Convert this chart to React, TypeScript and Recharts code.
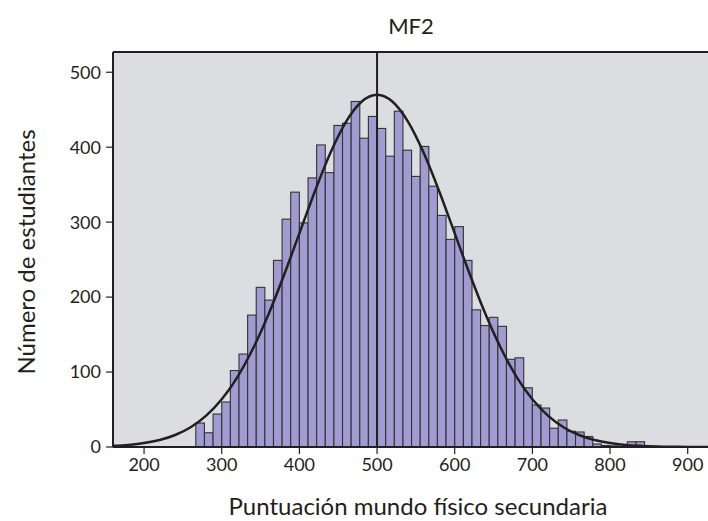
import React from 'react';
import {
  ComposedChart,
  Bar,
  Line,
  XAxis,
  YAxis,
  CartesianGrid,
  ReferenceLine,
} from 'recharts';

// bin centres (score), bins are 100/9 wide starting at ~266.7
const binCenters = [
  272.2, 283.3, 294.4, 305.6, 316.7, 327.8, 338.9, 350.0, 361.1, 372.2,
  383.3, 394.4, 405.6, 416.7, 427.8, 438.9, 450.0, 461.1, 472.2, 483.3,
  494.4, 505.6, 516.7, 527.8, 538.9, 550.0, 561.1, 572.2, 583.3, 594.4,
  605.6, 616.7, 627.8, 638.9, 650.0, 661.1, 672.2, 683.3, 694.4, 705.6,
  716.7, 727.8, 738.9, 750.0, 761.1, 772.2, 783.3, 794.4, 805.6, 816.7,
  827.8, 838.9,
];

const studentCounts = [
  32, 19, 44, 60, 102, 124, 176, 213, 196, 249,
  304, 340, 299, 359, 403, 366, 429, 432, 461, 412,
  441, 425, 388, 448, 396, 361, 401, 348, 309, 277,
  294, 249, 183, 162, 173, 161, 117, 119, 79, 56,
  52, 25, 36, 21, 20, 14, 4, 2, 1.5, 0.5,
  7, 7,
];

// normal curve
const curveX = [
  160, 180, 200, 220, 240, 260, 280, 300, 320, 340, 360, 380, 400, 420, 440,
  460, 480, 500, 520, 540, 560, 580, 600, 620, 640, 660, 680, 700, 720, 740,
  760, 780, 800, 820, 840, 860, 880, 900, 920, 930,
];
const curveY = [
  1.5, 2.8, 5.2, 9.3, 16.0, 26.4, 41.8, 63.6, 93.0, 130.7, 176.4, 228.8, 285.1,
  341.3, 392.6, 433.9, 460.7, 470, 460.7, 433.9, 392.6, 341.3, 285.1, 228.8,
  176.4, 130.7, 93.0, 63.6, 41.8, 26.4, 16.0, 9.3, 5.2, 2.8, 1.5, 0.7, 0.3,
  0.15, 0.07, 0.05,
];

const xTicks = [200, 300, 400, 500, 600, 700, 800, 900];
const yTicks = [0, 100, 200, 300, 400, 500];
const meanScore = 500;

const barData = binCenters.map((x, i) => ({ x, count: studentCounts[i] }));
const curveData = curveX.map((x, i) => ({ x, y: curveY[i] }));

const FONT = 'Lato, "DejaVu Sans", sans-serif';
const INK = '#231f20';
// one bin (100/9 score points) on a 598px plot spanning 770 points
const BIN_PX = 8.63;

// recharts gives numeric-axis bars almost no width, so widen them round their centre
const HistBar = (props: any) => {
  const { x, y, width, height } = props;
  if (height == null || height <= 0) return null;
  const cx = x + width / 2;
  return (
    <rect
      x={cx - BIN_PX / 2}
      y={y}
      width={BIN_PX}
      height={height}
      fill="#a09bd0"
      stroke="#333333"
      strokeWidth={1.1}
    />
  );
};

export default function App() {
  return (
    <div
      style={{
        position: 'absolute',
        left: 0,
        top: 0,
        width: 708,
        height: 521,
        overflow: 'hidden',
        background: '#ffffff',
        fontFamily: FONT,
      }}
    >
      <div
        style={{
          position: 'absolute',
          left: 0,
          width: 822,
          top: 12,
          textAlign: 'center',
          fontSize: 22,
          color: INK,
        }}
      >
        MF2
      </div>
      <div
        style={{
          position: 'absolute',
          left: 0,
          width: 836,
          top: 491,
          textAlign: 'center',
          fontSize: 24,
          color: INK,
          whiteSpace: 'nowrap',
        }}
      >
        Puntuación mundo físico secundaria
      </div>
      <div
        style={{
          position: 'absolute',
          left: 25,
          top: 252,
          transform: 'translate(-50%, -50%) rotate(-90deg)',
          fontSize: 24,
          color: INK,
          whiteSpace: 'nowrap',
        }}
      >
        Número de estudiantes
      </div>
      <ComposedChart
        width={723}
        height={521}
        data={barData}
        margin={{ top: 52, right: 12, bottom: 0, left: 0 }}
        barCategoryGap={0}
        barGap={0}
        style={{ position: 'absolute', left: 0, top: 0 }}
      >
        <CartesianGrid fill="#dcdde0" horizontal={false} vertical={false} />
        <XAxis
          dataKey="x"
          type="number"
          domain={[160, 930]}
          allowDataOverflow
          ticks={xTicks}
          height={74}
          tickSize={7}
          tickMargin={4}
          axisLine={{ stroke: INK, strokeWidth: 2 }}
          tickLine={{ stroke: INK, strokeWidth: 1.2 }}
          tick={{ fill: INK, fontSize: 18, fontFamily: FONT }}
        />
        <YAxis
          type="number"
          domain={[0, 527]}
          allowDataOverflow
          ticks={yTicks}
          width={113}
          tickSize={7}
          tickMargin={5}
          axisLine={{ stroke: INK, strokeWidth: 2 }}
          tickLine={{ stroke: INK, strokeWidth: 1.2 }}
          tick={{ fill: INK, fontSize: 18, fontFamily: FONT }}
        />
        <ReferenceLine y={527} stroke={INK} strokeWidth={2} />
        <Bar dataKey="count" shape={HistBar} isAnimationActive={false} />
        <Line
          data={curveData}
          dataKey="y"
          type="monotone"
          stroke={INK}
          strokeWidth={2.5}
          dot={false}
          activeDot={false}
          isAnimationActive={false}
        />
        <ReferenceLine x={meanScore} stroke={INK} strokeWidth={2} />
      </ComposedChart>
    </div>
  );
}
